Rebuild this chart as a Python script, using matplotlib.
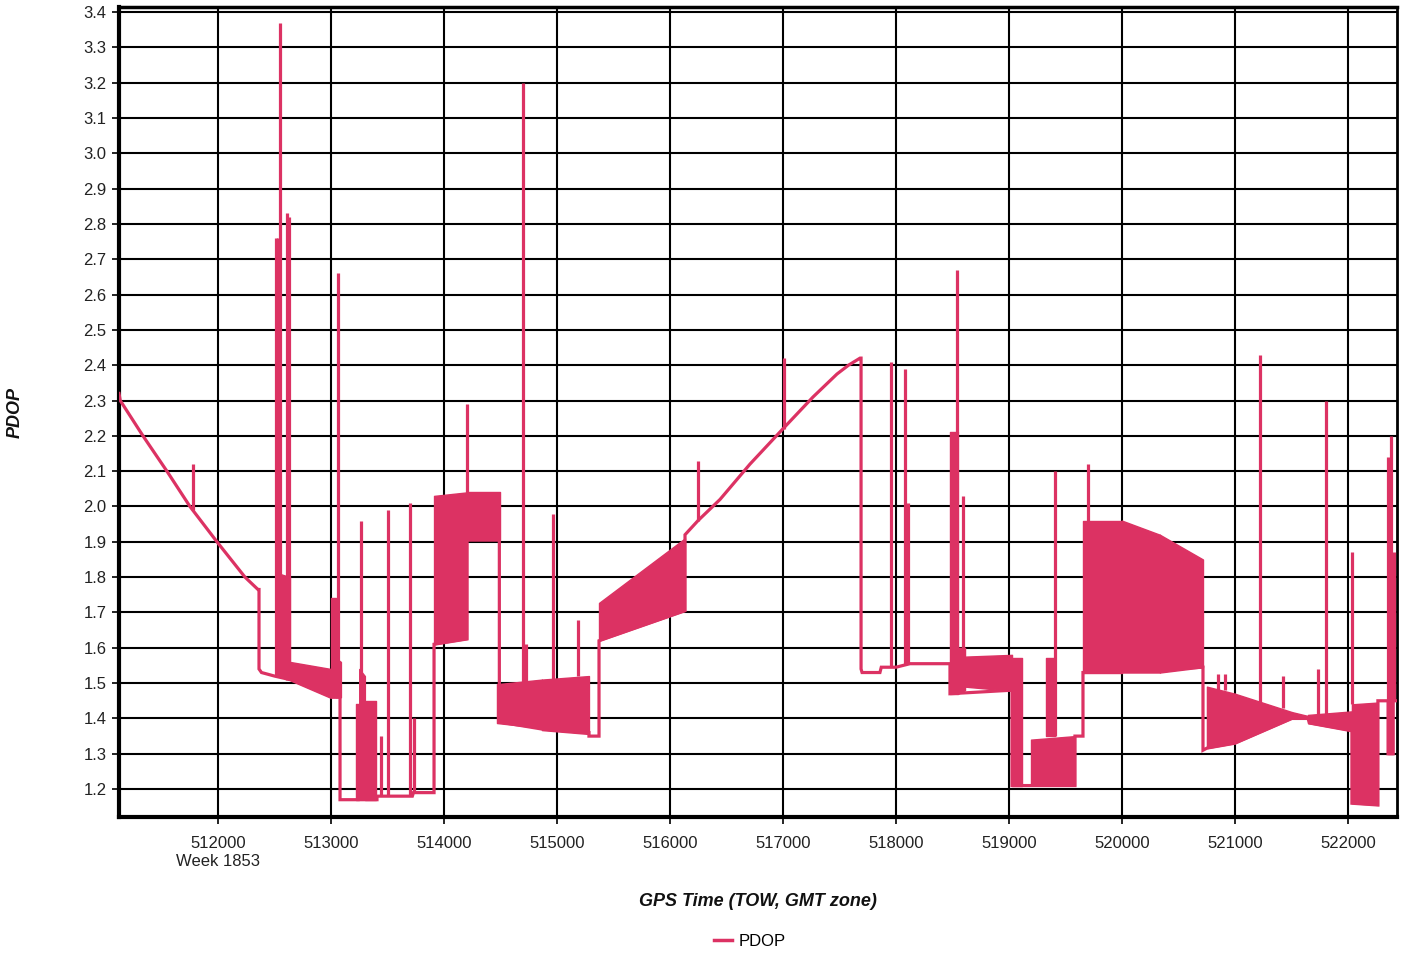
import matplotlib
matplotlib.use("Agg")
import numpy as np
import matplotlib.pyplot as plt
from matplotlib.lines import Line2D

# main PDOP trace (GPS TOW seconds, PDOP)
trace_t = [511124, 511135, 511336, 511548, 511752, 511991, 512239, 512354, 512363, 512363,
           512385, 512500, 512637, 513000, 513080, 513080, 513407, 513407, 513720, 513730,
           513912, 513912, 514204, 514204, 514490, 514490, 514867, 515283, 515283, 515372,
           515372, 516133, 516133, 516248, 516443, 516708, 517000, 517266, 517478, 517580,
           517682, 517691, 517691, 517700, 517858, 517870, 518000, 518124, 518478, 518478,
           519027, 519027, 519584, 519584, 519655, 519655, 520717, 520717, 520752, 521000,
           521504, 521646, 521660, 522035, 522035, 522265, 522265, 522355, 522355, 522400,
           522400, 522434]
trace_v = [2.32, 2.30, 2.20, 2.10, 2.00, 1.90, 1.80, 1.765, 1.765, 1.54,
           1.53, 1.52, 1.51, 1.46, 1.46, 1.17, 1.17, 1.18, 1.18, 1.19,
           1.19, 1.61, 1.625, 1.905, 1.905, 1.39, 1.37, 1.36, 1.35, 1.35,
           1.62, 1.705, 1.92, 1.96, 2.02, 2.12, 2.22, 2.31, 2.375, 2.40,
           2.42, 2.42, 1.54, 1.53, 1.53, 1.545, 1.545, 1.555, 1.555, 1.47,
           1.48, 1.21, 1.21, 1.35, 1.35, 1.53, 1.545, 1.31, 1.316, 1.33,
           1.40, 1.40, 1.387, 1.365, 1.16, 1.155, 1.45, 1.45, 1.30, 1.30,
           1.45, 1.45]

# isolated spikes
spike_t = [511779, 512510, 512530, 512549, 512612, 512625, 513015, 513035, 513062, 513266,
           513442, 513504, 513699, 513735, 514204, 514699, 514726, 514965, 515186, 516248,
           517010, 517956, 518080, 518106, 518540, 518593, 519407, 519699, 520850, 520915,
           521221, 521425, 521735, 521805, 522035, 522355, 522385, 522405]
spike_lo = [1.99, 1.52, 1.52, 1.52, 1.51, 1.51, 1.46, 1.46, 1.46, 1.17,
            1.18, 1.18, 1.18, 1.19, 2.03, 1.49, 1.49, 1.51, 1.52, 1.96,
            2.22, 1.545, 1.555, 1.555, 2.21, 1.58, 1.35, 1.96, 1.48, 1.48,
            1.44, 1.43, 1.41, 1.41, 1.44, 1.45, 1.45, 1.45]
spike_hi = [2.12, 2.76, 2.76, 3.37, 2.83, 2.82, 1.74, 1.74, 2.66, 1.96,
            1.35, 1.99, 2.01, 1.40, 2.29, 3.20, 1.61, 1.98, 1.68, 2.13,
            2.42, 2.41, 2.39, 2.01, 2.67, 2.03, 2.10, 2.12, 1.525, 1.525,
            2.43, 1.52, 1.54, 2.30, 1.87, 2.14, 2.20, 1.87]

# dense oscillation envelopes (start/end time, low and high edge at each end)
band_t0 = [512540, 512637, 513000, 513044, 513225, 513250, 513300, 513912, 514204, 514469,
           514867, 515372, 518478, 518550, 518611, 519027, 519195, 519330, 519655, 520000,
           520336, 520752, 521000, 521504, 521646, 522035, 522355]
band_t1 = [512637, 513000, 513044, 513088, 513250, 513300, 513400, 514204, 514496, 514867,
           515283, 516133, 518550, 518611, 519027, 519115, 519584, 519410, 520000, 520336,
           520717, 521000, 521504, 521646, 522035, 522265, 522400]
band_lo0 = [1.52, 1.51, 1.46, 1.46, 1.17, 1.17, 1.17, 1.61, 1.905, 1.387,
            1.367, 1.62, 1.47, 1.47, 1.49, 1.21, 1.21, 1.35, 1.53, 1.53,
            1.53, 1.316, 1.33, 1.40, 1.387, 1.16, 1.30]
band_lo1 = [1.51, 1.46, 1.46, 1.46, 1.17, 1.17, 1.17, 1.625, 1.905, 1.373,
            1.356, 1.705, 1.47, 1.48, 1.478, 1.21, 1.21, 1.35, 1.53, 1.53,
            1.545, 1.33, 1.40, 1.407, 1.365, 1.155, 1.30]
band_hi0 = [1.81, 1.56, 1.74, 1.57, 1.44, 1.54, 1.45, 2.03, 2.04, 1.497,
            1.51, 1.727, 2.21, 1.60, 1.575, 1.57, 1.34, 1.57, 1.96, 1.96,
            1.92, 1.49, 1.47, 1.418, 1.41, 1.44, 1.45]
band_hi1 = [1.80, 1.54, 1.74, 1.56, 1.44, 1.52, 1.45, 2.04, 2.04, 1.51,
            1.52, 1.91, 2.21, 1.60, 1.58, 1.57, 1.35, 1.57, 1.96, 1.92,
            1.85, 1.47, 1.418, 1.407, 1.42, 1.445, 1.45]

xticks = np.arange(512000, 522001, 1000)
yticks = np.round(np.arange(1.2, 3.41, 0.1), 1)

color = "#DC3263"
plt.rcParams["font.family"] = ["Liberation Sans", "DejaVu Sans"]

fig = plt.figure(figsize=(14.03, 9.56), dpi=100)
ax = fig.add_axes([119 / 1403, 1 - 817 / 956, 1278 / 1403, 810 / 956])

for i in range(len(band_t0)):
    ax.fill_between([band_t0[i], band_t1[i]], [band_lo0[i], band_lo1[i]],
                    [band_hi0[i], band_hi1[i]], color=color, lw=1, zorder=3)
ax.vlines(spike_t, spike_lo, spike_hi, color=color, lw=2.3, zorder=3)
ax.plot(trace_t, trace_v, color=color, lw=2.3, zorder=4, solid_joinstyle="miter")

ax.set_xlim(511124, 522434)
ax.set_ylim(1.121, 3.414)
ax.set_xticks(xticks)
ax.set_xticklabels([str(t) for t in xticks], fontsize=12, color="#222222")
ax.set_yticks(yticks)
ax.set_yticklabels([f"{v:.1f}" for v in yticks], fontsize=12, color="#222222")
ax.tick_params(axis="both", length=5, width=1.2, color="black")
ax.tick_params(axis="x", pad=9)
ax.tick_params(axis="y", pad=4)
ax.grid(True, color="black", lw=1.5, zorder=1)
ax.set_axisbelow(True)
for side, lw in [("left", 3), ("bottom", 3), ("top", 2.5), ("right", 2)]:
    ax.spines[side].set_linewidth(lw)
    ax.spines[side].set_color("black")

fig.text(218 / 1403, 1 - 862 / 956, "Week 1853", ha="center", va="center",
         fontsize=12, color="#222222")
fig.text(758 / 1403, 1 - 901 / 956, "GPS Time (TOW, GMT zone)", ha="center", va="center",
         fontsize=13, fontweight="bold", fontstyle="italic", color="#111111")
fig.text(15 / 1403, 1 - 412 / 956, "PDOP", ha="center", va="center", rotation=90,
         fontsize=13, fontweight="bold", fontstyle="italic", color="#111111")

handle = Line2D([], [], color=color, lw=2.5)
fig.legend([handle], ["PDOP"], loc="center", bbox_to_anchor=(750 / 1403, 1 - 941 / 956),
           frameon=False, handlelength=1.1, handletextpad=0.4, fontsize=12)

fig.savefig("out.png", dpi=100)
